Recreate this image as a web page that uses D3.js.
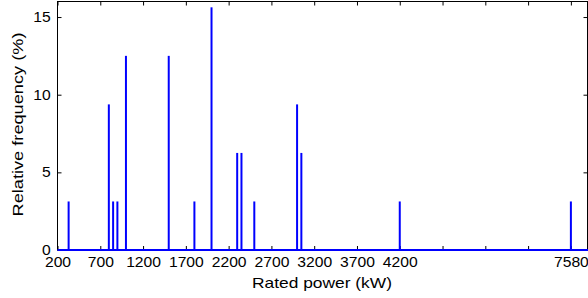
<!DOCTYPE html>
<html>
<head>
<meta charset="utf-8">
<script src="https://cdn.jsdelivr.net/npm/d3@7"></script>
<style>
  html, body { margin: 0; padding: 0; background: #fff; }
  svg { display: block; font-family: "Liberation Sans", Arial, sans-serif; }
</style>
</head>
<body>
<svg id="chart" width="588" height="298"></svg>
<script>
// turbine rated power (kW) and share of turbines (%)
const ratedPower = [330, 800, 850, 900, 1000, 1500, 1800, 2000, 2300, 2350, 2500, 3000, 3050, 4200, 7580]
const relFreq = [3.125, 9.375, 3.125, 3.125, 12.5, 12.5, 3.125, 15.625, 6.25, 6.25, 3.125, 9.375, 6.25, 3.125, 3.125]

const xTicks = [200, 700, 1200, 1700, 2200, 2700, 3200, 3700, 4200, 4700, 5200, 5700, 7580]
const xTickLabels = ['200', '700', '1200', '1700', '2200', '2700', '3200', '3700', '4200', '', '', '', '7580']
const yTicks = [0, 5, 10, 15]

const plotLeft = 57.5, plotRight = 588, plotTop = 1.5, plotBottom = 250

// axis is broken: 7580 sits where 6200 would be
const pos = d3.scaleLinear().domain([200, 6400]).range([plotLeft, plotRight])
const x = d3.scaleLinear()
  .domain([200, 5700, 7580, 7780])
  .range([pos(200), pos(5700), pos(6200), pos(6400)])

const y = d3.scaleLinear().domain([0, 16]).range([plotBottom, plotTop])

const svg = d3.select('svg#chart')

const fmtX = (d) => xTickLabels[xTicks.indexOf(d)]

// bottom axis
svg.append('g')
  .attr('transform', `translate(0,${plotBottom})`)
  .call(d3.axisBottom(x).tickValues(xTicks).tickFormat(fmtX).tickSizeInner(-4).tickSizeOuter(0).tickPadding(7))
  .call(g => g.select('.domain').remove())
  .call(g => g.selectAll('text').attr('font-size', '14px').attr('fill', '#000').attr('font-family', null)
    .attr('transform', 'scale(1.12,1)'))

// top axis ticks
svg.append('g')
  .attr('transform', `translate(0,${plotTop})`)
  .call(d3.axisTop(x).tickValues(xTicks).tickFormat('').tickSizeInner(-4).tickSizeOuter(0))
  .call(g => g.select('.domain').remove())

// left axis
svg.append('g')
  .attr('transform', `translate(${plotLeft},0)`)
  .call(d3.axisLeft(y).tickValues(yTicks).tickSizeInner(-4).tickSizeOuter(0).tickPadding(6))
  .call(g => g.select('.domain').remove())
  .call(g => g.selectAll('text').attr('font-size', '14px').attr('fill', '#000').attr('font-family', null)
    .attr('transform', 'scale(1.12,1)'))

// right axis ticks
svg.append('g')
  .attr('transform', `translate(${plotRight - 0.5},0)`)
  .call(d3.axisRight(y).tickValues(yTicks).tickFormat('').tickSizeInner(-4).tickSizeOuter(0))
  .call(g => g.select('.domain').remove())

// box
svg.append('rect')
  .attr('x', plotLeft)
  .attr('y', plotTop)
  .attr('width', plotRight - 0.5 - plotLeft)
  .attr('height', plotBottom - plotTop)
  .attr('fill', 'none')
  .attr('stroke', '#000')
  .attr('stroke-width', 1)

// stems
svg.append('g')
  .selectAll('line')
  .data(ratedPower)
  .enter()
  .append('line')
  .attr('x1', d => x(d))
  .attr('x2', d => x(d))
  .attr('y1', y(0))
  .attr('y2', (d, i) => y(relFreq[i]))
  .attr('stroke', '#0000ff')
  .attr('stroke-width', 2)

// baseline
svg.append('line')
  .attr('x1', plotLeft)
  .attr('x2', plotRight)
  .attr('y1', y(0))
  .attr('y2', y(0))
  .attr('stroke', '#0000ff')
  .attr('stroke-width', 2)

svg.append('text')
  .attr('x', 322)
  .attr('y', 288)
  .attr('text-anchor', 'middle')
  .attr('font-size', '15px')
  .attr('textLength', 140)
  .attr('lengthAdjust', 'spacingAndGlyphs')
  .text('Rated power (kW)')

svg.append('text')
  .attr('transform', `translate(23,124.5) rotate(-90)`)
  .attr('text-anchor', 'middle')
  .attr('font-size', '15px')
  .attr('textLength', 184)
  .attr('lengthAdjust', 'spacingAndGlyphs')
  .text('Relative frequency (%)')
</script>
</body>
</html>
